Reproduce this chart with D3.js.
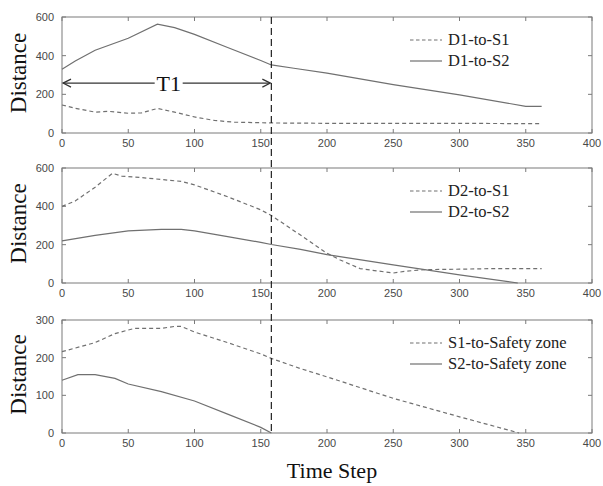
<!DOCTYPE html>
<html>
<head>
<meta charset="utf-8">
<script src="https://cdn.jsdelivr.net/npm/d3@7"></script>
<style>
  body { margin: 0; background: #fff; }
  svg { display: block; }
</style>
</head>
<body>
<div id="chart"></div>
<script>
// time steps and values
const t1S1 = [0, 10, 25, 35, 50, 60, 72, 85, 100, 115, 130, 158, 200, 250, 300, 362];
const d1S1 = [145, 128, 108, 112, 102, 104, 127, 108, 83, 65, 56, 52, 50, 50, 50, 48];
const t1S2 = [0, 10, 25, 50, 72, 85, 100, 125, 150, 158, 175, 200, 250, 300, 350, 362];
const d1S2 = [330, 372, 428, 490, 563, 545, 510, 442, 375, 352, 335, 310, 250, 197, 138, 138];

const t2S1 = [0, 10, 25, 38, 45, 60, 90, 100, 125, 150, 158, 180, 200, 210, 225, 250, 260, 275, 300, 325, 362];
const d2S1 = [400, 428, 500, 572, 558, 550, 530, 512, 450, 382, 352, 250, 155, 120, 75, 52, 62, 70, 72, 75, 75];
const t2S2 = [0, 25, 50, 75, 90, 100, 125, 150, 158, 180, 200, 250, 300, 344];
const d2S2 = [220, 248, 272, 280, 280, 272, 242, 212, 201, 175, 148, 95, 42, 0];

const t3S1 = [0, 25, 40, 55, 75, 85, 90, 100, 125, 150, 158, 180, 200, 250, 300, 345];
const d3S1 = [216, 240, 264, 278, 278, 283, 283, 268, 240, 210, 198, 171, 149, 92, 43, 0];
const t3S2 = [0, 12, 25, 40, 50, 75, 100, 125, 150, 158];
const d3S2 = [140, 155, 155, 145, 130, 110, 85, 50, 15, 0];

const xTicks = [0, 50, 100, 150, 200, 250, 300, 350, 400];
const yTicksA = [0, 200, 400, 600];
const yTicksB = [0, 100, 200, 300];
const markT = 158;
const arrowY = 258;

const panels = [
  {top: 17, bottom: 133, yMax: 600, ticks: yTicksA,
   series: [{name: "D1-to-S1", t: t1S1, v: d1S1, dash: true},
            {name: "D1-to-S2", t: t1S2, v: d1S2, dash: false}]},
  {top: 168, bottom: 283, yMax: 600, ticks: yTicksA,
   series: [{name: "D2-to-S1", t: t2S1, v: d2S1, dash: true},
            {name: "D2-to-S2", t: t2S2, v: d2S2, dash: false}]},
  {top: 320, bottom: 433, yMax: 300, ticks: yTicksB,
   series: [{name: "S1-to-Safety zone", t: t3S1, v: d3S1, dash: true},
            {name: "S2-to-Safety zone", t: t3S2, v: d3S2, dash: false}]}
];

const W = 603, H = 486;
const left = 62, right = 592;
const frameColor = "#7a7a7a";
const lineColor = "#707070";

const svg = d3.select("#chart").append("svg")
  .attr("width", W)
  .attr("height", H);

const x = d3.scaleLinear().domain([0, 400]).range([left, right]);

panels.forEach(function(p) {
  const y = d3.scaleLinear().domain([0, p.yMax]).range([p.bottom, p.top]);
  p.y = y;
  const g = svg.append("g");

  // frame
  g.append("rect")
    .attr("x", left).attr("y", p.top)
    .attr("width", right - left).attr("height", p.bottom - p.top)
    .attr("fill", "none").attr("stroke", frameColor).attr("stroke-width", 1);

  // inward ticks
  xTicks.forEach(function(d) {
    g.append("line").attr("x1", x(d)).attr("x2", x(d))
      .attr("y1", p.bottom).attr("y2", p.bottom - 4).attr("stroke", frameColor);
    g.append("line").attr("x1", x(d)).attr("x2", x(d))
      .attr("y1", p.top).attr("y2", p.top + 4).attr("stroke", frameColor);
    g.append("text").attr("x", x(d)).attr("y", p.bottom + 14)
      .attr("text-anchor", "middle")
      .attr("font-family", "Liberation Sans, Arial, sans-serif")
      .attr("font-size", 11).attr("fill", "#484848").text(d);
  });
  p.ticks.forEach(function(d) {
    g.append("line").attr("x1", left).attr("x2", left + 4)
      .attr("y1", y(d)).attr("y2", y(d)).attr("stroke", frameColor);
    g.append("line").attr("x1", right).attr("x2", right - 4)
      .attr("y1", y(d)).attr("y2", y(d)).attr("stroke", frameColor);
    g.append("text").attr("x", left - 8).attr("y", y(d) + 4)
      .attr("text-anchor", "end")
      .attr("font-family", "Liberation Sans, Arial, sans-serif")
      .attr("font-size", 11).attr("fill", "#484848").text(d);
  });

  // series
  const line = d3.line()
    .x(function(d) { return x(d[0]); })
    .y(function(d) { return y(d[1]); });

  p.series.forEach(function(s, i) {
    g.append("path")
      .datum(d3.zip(s.t, s.v))
      .attr("d", line)
      .attr("fill", "none")
      .attr("stroke", lineColor)
      .attr("stroke-width", 1.2)
      .attr("stroke-dasharray", s.dash ? "4,3" : null);

    // legend
    const ly = p.top + 23 + i * 21;
    g.append("line").attr("x1", 410).attr("x2", 442)
      .attr("y1", ly).attr("y2", ly)
      .attr("stroke", lineColor).attr("stroke-width", 1.2)
      .attr("stroke-dasharray", s.dash ? "3.5,2.5" : null);
    g.append("text").attr("x", 448).attr("y", ly + 5)
      .attr("font-family", "Liberation Serif, Times New Roman, serif")
      .attr("font-size", 16.5).attr("fill", "#222").text(s.name);
  });

  // y label
  const cy = (p.top + p.bottom) / 2 - 2;
  svg.append("text")
    .attr("transform", "translate(26," + cy + ") rotate(-90)")
    .attr("text-anchor", "middle")
    .attr("font-family", "Liberation Serif, Times New Roman, serif")
    .attr("font-size", 23).attr("fill", "#111").text("Distance");
});

// vertical marker
svg.append("line")
  .attr("x1", x(markT)).attr("x2", x(markT))
  .attr("y1", panels[0].top).attr("y2", panels[2].bottom)
  .attr("stroke", "#222").attr("stroke-width", 1.2)
  .attr("stroke-dasharray", "7,4");

// T1 arrow
const ay = panels[0].y(arrowY);
svg.append("line")
  .attr("x1", x(0) + 1).attr("x2", x(markT) - 1)
  .attr("y1", ay).attr("y2", ay)
  .attr("stroke", "#333").attr("stroke-width", 1.2);
svg.append("path")
  .attr("d", "M" + (x(0) + 9) + "," + (ay - 4) + "L" + (x(0) + 1) + "," + ay + "L" + (x(0) + 9) + "," + (ay + 4))
  .attr("fill", "none").attr("stroke", "#333").attr("stroke-width", 1.2);
svg.append("path")
  .attr("d", "M" + (x(markT) - 9) + "," + (ay - 4) + "L" + (x(markT) - 1) + "," + ay + "L" + (x(markT) - 9) + "," + (ay + 4))
  .attr("fill", "none").attr("stroke", "#333").attr("stroke-width", 1.2);
const tx = (x(0) + x(markT)) / 2 + 2;
svg.append("rect")
  .attr("x", tx - 14).attr("y", ay - 12).attr("width", 28).attr("height", 22)
  .attr("fill", "#fff");
svg.append("text")
  .attr("x", tx).attr("y", ay + 8)
  .attr("text-anchor", "middle")
  .attr("font-family", "Liberation Serif, Times New Roman, serif")
  .attr("font-size", 22).attr("fill", "#111").text("T1");

// x label
svg.append("text")
  .attr("x", 332).attr("y", 478)
  .attr("text-anchor", "middle")
  .attr("font-family", "Liberation Serif, Times New Roman, serif")
  .attr("font-size", 22).attr("fill", "#111").text("Time Step");
</script>
</body>
</html>
